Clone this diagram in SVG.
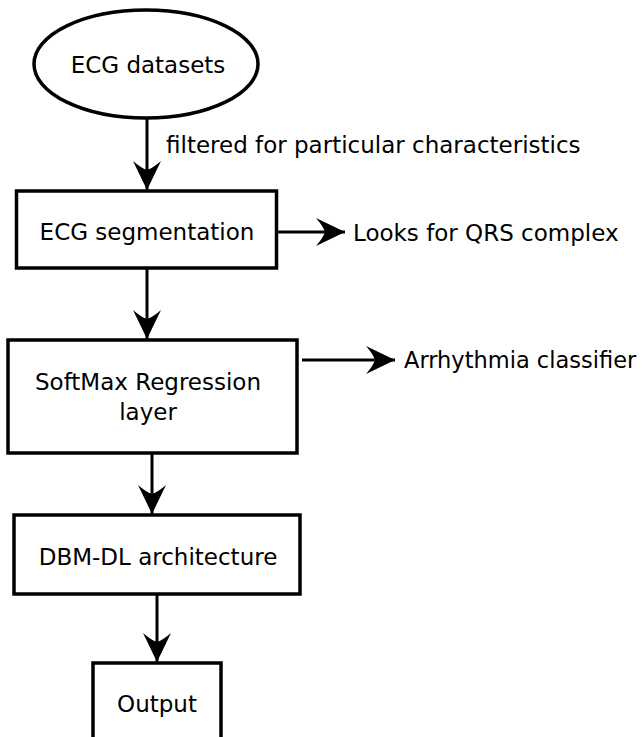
<svg xmlns="http://www.w3.org/2000/svg" width="642" height="737" viewBox="0 0 642 737">
  <style>
    .shape { fill: #ffffff; stroke: #000000; stroke-width: 3.5; }
    .conn { fill: none; stroke: #000000; stroke-width: 3; }
    text { font-family: "DejaVu Sans", Verdana, sans-serif; font-size: 23px; fill: #000000; }
    .c { text-anchor: middle; }
  </style>
  <defs>
    <marker id="ah" viewBox="-30 -16 32 32" refX="0" refY="0" markerWidth="32" markerHeight="32" markerUnits="userSpaceOnUse" orient="auto">
      <path d="M0,0 L-29,-14 Q-22,-6 -20,0 Q-22,6 -29,14 Z" fill="#000000"/>
    </marker>
  </defs>
  <rect width="642" height="737" fill="#ffffff"/>

  <g id="connectors">
    <line class="conn" x1="147" y1="118" x2="147" y2="190" marker-end="url(#ah)"/>
    <line class="conn" x1="278" y1="232" x2="345" y2="232" marker-end="url(#ah)"/>
    <line class="conn" x1="147" y1="269" x2="147" y2="339" marker-end="url(#ah)"/>
    <line class="conn" x1="302" y1="360" x2="395" y2="360" marker-end="url(#ah)"/>
    <line class="conn" x1="152" y1="454" x2="152" y2="514" marker-end="url(#ah)"/>
    <line class="conn" x1="157" y1="595" x2="157" y2="662" marker-end="url(#ah)"/>
  </g>

  <g id="edge-label-filter">
    <text x="166" y="153">filtered for particular characteristics</text>
  </g>
  <g id="edge-label-qrs">
    <text x="353" y="241">Looks for QRS complex</text>
  </g>
  <g id="edge-label-arrhythmia">
    <text x="404" y="368" style="font-size:22.5px">Arrhythmia classifier</text>
  </g>

  <g id="node-datasets">
    <ellipse class="shape" cx="146" cy="64" rx="112" ry="54" stroke-width="3"/>
    <text class="c" x="148" y="73">ECG datasets</text>
  </g>

  <g id="node-segmentation">
    <rect class="shape" x="16.5" y="191" width="260" height="77"/>
    <text class="c" x="147" y="240">ECG segmentation</text>
  </g>

  <g id="node-softmax">
    <rect class="shape" x="8" y="340" width="289" height="113"/>
    <text class="c" x="148" y="390">SoftMax Regression</text>
    <text class="c" x="148" y="420">layer</text>
  </g>

  <g id="node-dbm">
    <rect class="shape" x="14" y="515" width="286" height="79"/>
    <text class="c" x="158" y="565">DBM-DL architecture</text>
  </g>

  <g id="node-output">
    <rect class="shape" x="93" y="663" width="128" height="90"/>
    <text class="c" x="157" y="712">Output</text>
  </g>
</svg>
